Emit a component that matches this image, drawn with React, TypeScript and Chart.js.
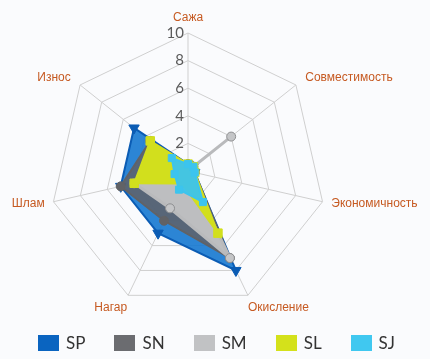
import React, { useEffect, useRef } from 'react';
import { Chart, registerables } from 'chart.js';

Chart.register(...registerables);

const AXES = ['Сажа', 'Совместимость', 'Экономичность', 'Окисление', 'Нагар', 'Шлам', 'Износ'];
const SERIES_NAMES = ['SP', 'SN', 'SM', 'SL', 'SJ'];
const SP = [0.5, 0.5, 0.5, 8, 5, 5, 5];
const SN = [0.5, 0.5, 0.5, 7, 4, 5, 3.5];
const SM = [0, 4, 0, 7, 3, 4, 0];
const SL = [0.5, 0.5, 0.5, 5, 1, 4, 3.5];
const SJ = [0.5, 0.5, 0.5, 2.5, 1.5, 1, 1.5];
const TICKS = [2, 4, 6, 8, 10];

const SERIES_VALUES = [SP, SN, SM, SL, SJ];
const LEGEND_COLORS = ['#0a64c0', '#6b6c70', '#c1c2c4', '#d4e11b', '#40c8f0'];

const STYLES = [
  { bg: 'rgba(28,124,210,0.93)', border: '#0b5cb4', bw: 2, ps: 'triangle', rot: 180, pr: 6, pbg: '#0b5cb4', pbd: '#0b5cb4' },
  { bg: 'rgba(96,97,102,0.84)', border: '#616266', bw: 2, ps: 'circle', rot: 0, pr: 4.5, pbg: '#616266', pbd: '#616266' },
  { bg: '#bdbec0', border: '#b9babc', bw: 3, ps: 'circle', rot: 0, pr: 4.5, pbg: '#c4c5c7', pbd: '#8e8f91' },
  { bg: '#d2df1d', border: '#d2df1d', bw: 2, ps: 'rect', rot: 0, pr: 6, pbg: '#d2df1d', pbd: '#d2df1d' },
  { bg: 'rgba(58,196,238,0.94)', border: '#3cc4ee', bw: 2, ps: 'rect', rot: 0, pr: 5, pbg: '#3cc4ee', pbd: '#3cc4ee' },
];

const textPlugin = {
  id: 'radarText',
  afterDraw(chart: any) {
    const scale = chart.scales.r;
    const ctx = chart.ctx as CanvasRenderingContext2D;
    const r = scale.drawingArea;
    ctx.save();
    ctx.font = '15px Lato';
    ctx.fillStyle = '#5a5a5a';
    ctx.textAlign = 'right';
    ctx.textBaseline = 'middle';
    TICKS.forEach((v) => {
      const d = scale.getDistanceFromCenterForValue(v);
      ctx.fillText(String(v), scale.xCenter - 4, scale.yCenter - d);
    });
    ctx.font = '12px "Liberation Sans", Arial, sans-serif';
    ctx.fillStyle = '#c65a22';
    ctx.textBaseline = 'middle';
    AXES.forEach((label, i) => {
      const a = scale.getIndexAngle(i);
      const s = Math.sin(a);
      const c = Math.cos(a);
      let x = 0;
      let y = 0;
      let align: CanvasTextAlign = 'center';
      if (Math.abs(s) < 0.01) {
        const p = scale.getPointPosition(i, r + 15);
        x = p.x; y = p.y; align = 'center';
      } else if (c < -0.5) {
        const p = scale.getPointPosition(i, r);
        x = p.x + (s > 0 ? 0 : -1);
        y = p.y + 12;
        align = s > 0 ? 'left' : 'right';
      } else {
        const p = scale.getPointPosition(i, r + (c > 0 ? 12 : 9));
        x = p.x; y = p.y;
        align = s > 0 ? 'left' : 'right';
      }
      ctx.textAlign = align;
      ctx.fillText(label, x, y);
    });
    ctx.restore();
  },
};

export default function App() {
  const ref = useRef<HTMLCanvasElement | null>(null);

  useEffect(() => {
    if (!ref.current) return;
    const datasets = SERIES_NAMES.map((name, k) => {
      const st = STYLES[k];
      return {
        label: name,
        data: SERIES_VALUES[k],
        backgroundColor: st.bg,
        borderColor: st.border,
        borderWidth: st.bw,
        fill: true,
        tension: 0,
        pointStyle: st.ps,
        pointRotation: st.rot,
        pointRadius: st.pr,
        pointBackgroundColor: st.pbg,
        pointBorderColor: st.pbd,
        pointBorderWidth: 1,
        order: SERIES_NAMES.length - k,
      };
    });
    const chart = new Chart(ref.current, {
      type: 'radar',
      data: { labels: AXES, datasets },
      options: {
        responsive: false,
        animation: false,
        layout: { padding: { left: 50, right: 104, top: 33, bottom: 50 } },
        plugins: { legend: { display: false }, tooltip: { enabled: false } },
        scales: {
          r: {
            min: 0,
            max: 10,
            ticks: { stepSize: 2, display: false },
            pointLabels: { display: false },
            grid: { color: '#cfcfcf', lineWidth: 1 },
            angleLines: { color: '#cfcfcf', lineWidth: 1 },
          },
        },
      },
      plugins: [textPlugin],
    } as any);
    return () => chart.destroy();
  }, []);

  return (
    <div style={{ position: 'absolute', left: 0, top: 0, width: 430, height: 359, background: '#fafbfd', overflow: 'hidden' }}>
      <canvas ref={ref} width={430} height={359} style={{ position: 'absolute', left: 0, top: 0 }} />
      <div style={{ position: 'absolute', left: 38, top: 335, display: 'flex', alignItems: 'center', height: 16, fontFamily: 'Lato, sans-serif', fontSize: 17, color: '#333' }}>
        {SERIES_NAMES.map((name, k) => (
          <div key={name} style={{ display: 'flex', alignItems: 'center', marginRight: 29 }}>
            <span style={{ display: 'inline-block', width: 21, height: 16, background: LEGEND_COLORS[k], marginRight: 7 }} />
            <span style={{ lineHeight: '16px' }}>{name}</span>
          </div>
        ))}
      </div>
    </div>
  );
}
